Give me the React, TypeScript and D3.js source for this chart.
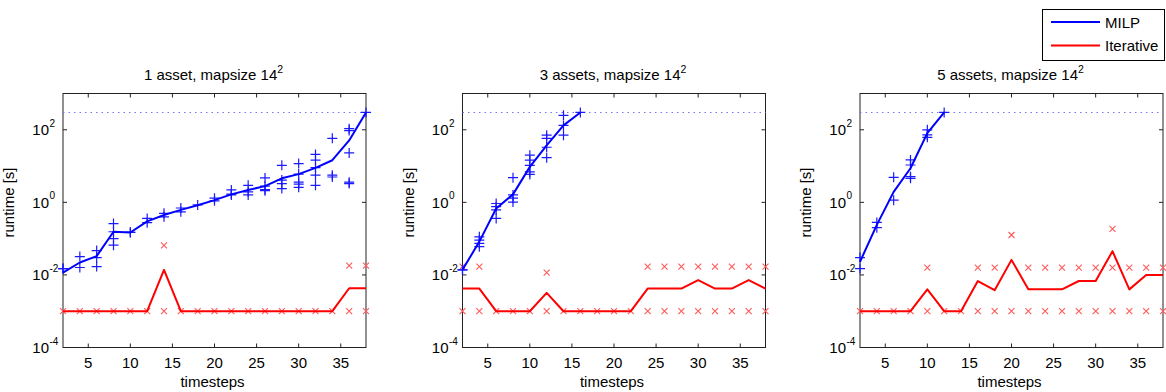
import React from "react";
import * as d3 from "d3";

// ---------- data ----------
const timesteps = [2, 4, 6, 8, 10, 12, 14, 16, 18, 20, 22, 24, 26, 28, 30, 32, 34, 36, 38];
const xTicks = [5, 10, 15, 20, 25, 30, 35];
const yTickExps = [-4, -2, 0, 2];
const timeoutValue = 300;
const panelTitles = ["1 asset, mapsize 14", "3 assets, mapsize 14", "5 assets, mapsize 14"];
const legendLabels = ["MILP", "Iterative"];

// Panel 1 (1 asset)
const milp1Mean = [0.0115, 0.022, 0.033, 0.155, 0.148, 0.3, 0.45, 0.62, 0.83, 1.15, 1.66, 2.2, 2.8, 4.6, 6.0, 8.9, 14.5, 51, 300];
const milp1Runs = [
  [0.015, 0.015], [0.032, 0.016], [0.047, 0.03, 0.017], [0.26, 0.155, 0.1, 0.066], [0.148, 0.15],
  [0.36, 0.275], [0.5, 0.4], [0.7, 0.55], [0.85], [1.3, 1.1],
  [2.2, 1.7, 1.6], [2.95, 1.95, 1.6], [4.7, 2.8, 2.25, 2.1], [10.5, 4.1, 3.3, 2.4], [11.7, 6.0, 3.6, 3.2, 2.6],
  [21, 14.5, 9.1, 5.6, 2.95], [58, 5.6, 5.0], [107, 95, 23, 3.6, 3.3], [300],
];
const iter1Mean = [0.001, 0.001, 0.001, 0.001, 0.001, 0.001, 0.0138, 0.001, 0.001, 0.001, 0.001, 0.001, 0.001, 0.001, 0.001, 0.001, 0.001, 0.0043, 0.0043];
const iter1Runs = [
  [0.001], [0.001], [0.001], [0.001], [0.001], [0.001], [0.001, 0.065], [0.001], [0.001], [0.001],
  [0.001], [0.001], [0.001], [0.001], [0.001], [0.001], [0.001], [0.001, 0.018], [0.001, 0.018],
];

// Panel 2 (3 assets)
const milp2Mean = [0.0138, 0.083, 0.68, 1.66, 9.5, 37, 132, 300];
const milp2Runs = [
  [0.0138, 0.0138], [0.112, 0.091, 0.074, 0.06], [0.93, 0.76, 0.62, 0.36], [4.8, 1.6, 1.3, 1.02],
  [20, 14.5, 10.5, 6.9, 5.9], [71, 58, 33, 17], [250, 132, 71], [300],
];
const iter2Mean = [0.0042, 0.0042, 0.001, 0.001, 0.001, 0.0032, 0.001, 0.001, 0.001, 0.001, 0.001, 0.0042, 0.0042, 0.0042, 0.0072, 0.0042, 0.0042, 0.0072, 0.0042];
const iter2Runs = [
  [0.001, 0.017], [0.001, 0.017], [0.001], [0.001], [0.001], [0.001, 0.0115], [0.001], [0.001], [0.001], [0.001],
  [0.001], [0.001, 0.017], [0.001, 0.017], [0.001, 0.017], [0.001, 0.017], [0.001, 0.017], [0.001, 0.017], [0.001, 0.017], [0.001, 0.017],
];

// Panel 3 (5 assets)
const milp3Mean = [0.023, 0.24, 1.95, 8.7, 81, 300];
const milp3Runs = [
  [0.03, 0.015], [0.28, 0.2], [4.9, 1.15], [14.8, 10.7, 5.1, 4.6], [100, 72, 62], [300],
];
const iter3Mean = [0.001, 0.001, 0.001, 0.001, 0.004, 0.001, 0.001, 0.0068, 0.0038, 0.026, 0.004, 0.004, 0.004, 0.0068, 0.0068, 0.045, 0.004, 0.01, 0.01];
const iter3Runs = [
  [0.001], [0.001], [0.001], [0.001], [0.001, 0.016], [0.001], [0.001], [0.001, 0.016], [0.001, 0.016], [0.001, 0.126],
  [0.001, 0.016], [0.001, 0.016], [0.001, 0.016], [0.001, 0.016], [0.001, 0.016], [0.001, 0.016, 0.186], [0.001, 0.016], [0.001, 0.016], [0.001, 0.016],
];

const panels = [
  { title: panelTitles[0], milpMean: milp1Mean, milpRuns: milp1Runs, iterMean: iter1Mean, iterRuns: iter1Runs },
  { title: panelTitles[1], milpMean: milp2Mean, milpRuns: milp2Runs, iterMean: iter2Mean, iterRuns: iter2Runs },
  { title: panelTitles[2], milpMean: milp3Mean, milpRuns: milp3Runs, iterMean: iter3Mean, iterRuns: iter3Runs },
];

// ---------- layout ----------
const W = 1166;
const H = 392;
const panelLefts = [63, 462.5, 860];
const plotW = 303;
const plotTop = 93.5;
const plotBottom = 347.5;
const FONT = "'Liberation Sans', Arial, sans-serif";
const BLUE = "#0000ff";
const RED = "#ff0000";
const RED_MARK = "#ff5a5a";
const BLUE_MARK = "#1a1aff";

function Panel({ p, left }: { p: any; left: number }) {
  const x = d3.scaleLinear().domain([2, 38]).range([left, left + plotW]);
  const y = d3.scaleLog().domain([1e-4, 1e3]).range([plotBottom, plotTop]);
  const line = d3
    .line<number>()
    .x((_, i) => x(timesteps[i]))
    .y((v) => y(v));
  const cx = left + plotW / 2;
  const tl = 4;
  return (
    <g>
      {/* title */}
      <text x={cx - 1} y={79.5} textAnchor="middle" fontFamily={FONT} fontSize={15} fill="#000">
        {p.title}
        <tspan dy={-7} fontSize={10.5}>2</tspan>
      </text>
      {/* frame */}
      <rect x={left} y={plotTop} width={plotW} height={plotBottom - plotTop} fill="#fff" stroke="#222" strokeWidth={1} />
      {/* x ticks */}
      {xTicks.map((t) => (
        <g key={"xt" + t}>
          <line x1={x(t)} x2={x(t)} y1={plotBottom} y2={plotBottom - tl} stroke="#222" />
          <line x1={x(t)} x2={x(t)} y1={plotTop} y2={plotTop + tl} stroke="#222" />
          <text x={x(t)} y={367.5} textAnchor="middle" fontFamily={FONT} fontSize={15} fill="#000">
            {t}
          </text>
        </g>
      ))}
      {/* y ticks */}
      {yTickExps.map((e) => {
        const yy = y(Math.pow(10, e));
        return (
          <g key={"yt" + e}>
            <line x1={left} x2={left + tl} y1={yy} y2={yy} stroke="#222" />
            <line x1={left + plotW} x2={left + plotW - tl} y1={yy} y2={yy} stroke="#222" />
            <text x={left - 14} y={yy + 5.5} textAnchor="end" fontFamily={FONT} fontSize={15} fill="#000">10</text>
            <text x={left - 13.5} y={yy - 3} fontFamily={FONT} fontSize={10} fill="#000">{String(e)}</text>
          </g>
        );
      })}
      {/* labels */}
      <text x={cx - 2} y={386.5} textAnchor="middle" fontFamily={FONT} fontSize={15} fill="#000">timesteps</text>
      <text
        transform={`translate(${left - 49},${(plotTop + plotBottom) / 2 - 18}) rotate(-90)`}
        textAnchor="middle"
        fontFamily={FONT}
        fontSize={15}
        fill="#000"
      >
        runtime [s]
      </text>
      {/* timeout */}
      <line x1={x(2)} x2={x(38)} y1={y(timeoutValue)} y2={y(timeoutValue)} stroke="#7070ff" strokeWidth={1} strokeDasharray="1.5,4" />
      {/* iterative markers */}
      {p.iterRuns.map((vals: number[], i: number) =>
        vals.map((v, j) => {
          const px = x(timesteps[i]);
          const py = y(v);
          const s = 3;
          return (
            <path
              key={`ir${i}-${j}`}
              d={`M${px - s},${py - s}L${px + s},${py + s}M${px - s},${py + s}L${px + s},${py - s}`}
              stroke={RED_MARK}
              strokeWidth={1.1}
              fill="none"
            />
          );
        })
      )}
      {/* iterative line */}
      <path d={line(p.iterMean) || ""} stroke={RED} strokeWidth={2} fill="none" strokeLinejoin="round" />
      {/* milp markers */}
      {p.milpRuns.map((vals: number[], i: number) =>
        vals.map((v, j) => {
          const px = x(timesteps[i]);
          const py = y(v);
          const s = 5;
          return (
            <path
              key={`mr${i}-${j}`}
              d={`M${px - s},${py}L${px + s},${py}M${px},${py - s}L${px},${py + s}`}
              stroke={BLUE_MARK}
              strokeWidth={1.2}
              fill="none"
            />
          );
        })
      )}
      {/* milp line */}
      <path d={line(p.milpMean) || ""} stroke={BLUE} strokeWidth={2} fill="none" strokeLinejoin="round" />
    </g>
  );
}

export default function App() {
  return (
    <svg width={W} height={H} style={{ position: "absolute", left: 0, top: 0, background: "#fff" }}>
      <rect x={0} y={0} width={W} height={H} fill="#fff" />
      {panels.map((p, i) => (
        <Panel key={i} p={p} left={panelLefts[i]} />
      ))}
      {/* legend */}
      <g>
        <rect x={1042.5} y={9.5} width={122} height={51} fill="#fff" stroke="#000" strokeWidth={1} />
        <line x1={1051} x2={1100} y1={22} y2={22} stroke={BLUE} strokeWidth={2} />
        <line x1={1051} x2={1100} y1={45.5} y2={45.5} stroke={RED} strokeWidth={2} />
        <text x={1105} y={27.5} fontFamily={FONT} fontSize={15} fill="#000">{legendLabels[0]}</text>
        <text x={1105} y={51} fontFamily={FONT} fontSize={15} fill="#000">{legendLabels[1]}</text>
      </g>
    </svg>
  );
}
